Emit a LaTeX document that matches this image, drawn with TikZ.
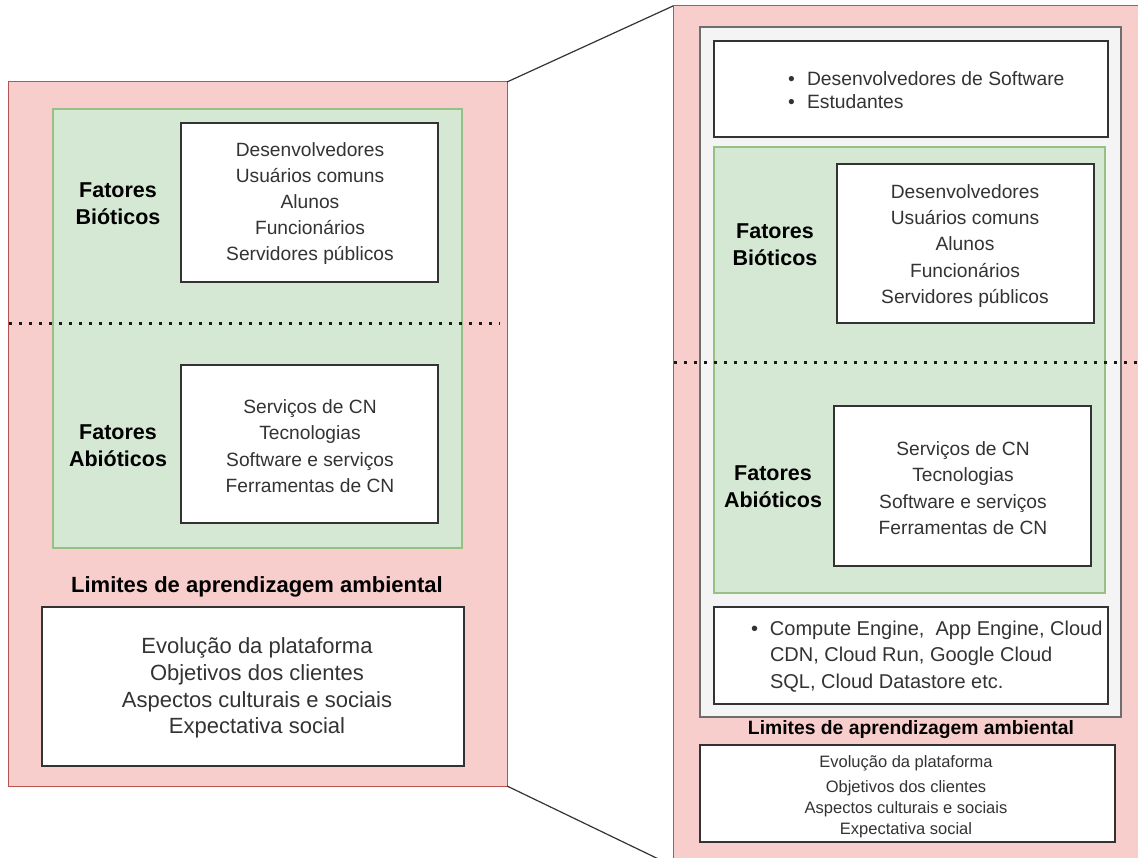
\documentclass[tikz,border=0pt]{standalone}
\usepackage{fontspec}
\setmainfont{Liberation Sans}
\usetikzlibrary{fit}

\definecolor{redfill}{HTML}{F8CECC}
\definecolor{redline}{HTML}{B85450}
\definecolor{greenfill}{HTML}{D5E8D4}
\definecolor{greenline}{HTML}{97C184}
\definecolor{greyfill}{HTML}{F4F4F4}
\definecolor{greyline}{HTML}{6E6E6E}
\definecolor{ink}{HTML}{333333}

\tikzset{
  x=1pt, y=-1pt,
  every node/.style={inner sep=0pt, outer sep=0pt},
  panel/.style={fill=redfill, draw=redline, line width=1pt, inner sep=0pt},
  zone/.style={fill=greenfill, draw=greenline, line width=1.3pt, inner sep=0pt},
  frame/.style={fill=greyfill, draw=greyline, line width=1.3pt, inner sep=0pt},
  card/.style={fill=white, draw=ink, line width=1.3pt, inner sep=0pt},
  label/.style={text=black, align=center},
  entry/.style={text=ink, align=center},
  divider/.style={draw=black!90, line width=3pt, dash pattern=on 3pt off 7pt},
  link/.style={draw=ink, line width=1.2pt},
}
\newcommand{\fs}[2]{\fontsize{#1}{#2}\selectfont}
\newcommand{\bul}{\makebox[19pt][l]{•}}

\begin{document}
\begin{tikzpicture}
\useasboundingbox (0,0) rectangle (1138,858);

% ---------- left panel ----------
\node[panel, fit={(8,82) (507,786)}] (L) {};
\node[zone, fit={(53,109) (462,548)}] (Lzone) {};
\node[card, fit={(181,123) (438,282)}] (Lbio) {};
\node[card, fit={(181,365) (438,523)}] (Labio) {};
\node[card, fit={(42,607) (464,766)}] (Llim) {};

\node[entry, font=\fs{19.2}{26}] (LbioT) at (310,204)
  {Desenvolvedores\\Usuários comuns\\Alunos\\Funcionários\\Servidores públicos};
\node[entry, font=\fs{19.2}{26.3}] (LabioT) at (310,446)
  {Serviços de CN\\Tecnologias\\Software e serviços\\Ferramentas de CN};
\node[label, font=\bfseries\fs{21.5}{27}] (LbioL) at (118,204) {Fatores\\Bióticos};
\node[label, font=\bfseries\fs{21.5}{27}] (LabioL) at (118,446) {Fatores\\Abióticos};
\node[label, font=\bfseries\fs{22}{27}] (LlimL) at (257,587) {Limites de aprendizagem ambiental};
\node[entry, font=\fs{22}{26.7}] (LlimT) at (257,688)
  {Evolução da plataforma\\Objetivos dos clientes\\Aspectos culturais e sociais\\Expectativa social};

\coordinate (Ld1) at (9,324);
\coordinate (Ld2) at (500,324);
\draw[divider] (Ld1) -- (Ld2);

% ---------- right panel (zoomed view) ----------
\node[panel, fit={(673,6) (1150,866)}] (R) {};
\node[frame, fit={(700,27) (1121,717)}] (Rframe) {};
\node[card, fit={(714,41) (1108,137)}] (Rusers) {};
\node[zone, fit={(714,147) (1105,593)}] (Rzone) {};
\node[card, fit={(837,164) (1094,323)}] (Rbio) {};
\node[card, fit={(834,406) (1091,566)}] (Rabio) {};
\node[card, fit={(714,607) (1108,704)}] (Rserv) {};
\node[card, fit={(700,745) (1115,842)}] (Rlim) {};

% multi-line nodes: the base anchor sits on the last line's baseline
\node[entry, anchor=base west, align=left, font=\fs{19.3}{23}] (RusersT) at (788,109)
  {\bul Desenvolvedores de Software\\\bul Estudantes};
\node[entry, font=\fs{19.2}{26.2}] (RbioT) at (965,246)
  {Desenvolvedores\\Usuários comuns\\Alunos\\Funcionários\\Servidores públicos};
\node[entry, font=\fs{19.2}{26.3}] (RabioT) at (963,488)
  {Serviços de CN\\Tecnologias\\Software e serviços\\Ferramentas de CN};
\node[label, font=\bfseries\fs{21.5}{27}] (RbioL) at (775,245) {Fatores\\Bióticos};
\node[label, font=\bfseries\fs{21.5}{27}] (RabioL) at (773,487) {Fatores\\Abióticos};
\node[entry, anchor=base west, align=left, font=\fs{20}{26.5}] (RservT) at (751,688)
  {\bul Compute Engine,\ \ App Engine, Cloud\\\hspace*{19pt}CDN, Cloud Run, Google Cloud\\\hspace*{19pt}SQL, Cloud Datastore etc.};
\node[label, font=\bfseries\fs{19.3}{23}] (RlimL) at (911,730) {Limites de aprendizagem ambiental};
\node[entry, font=\fs{16.5}{21}] (RlimT) at (906,797)
  {Evolução da plataforma\\[4pt]Objetivos dos clientes\\Aspectos culturais e sociais\\Expectativa social};

\coordinate (Rd1) at (674,363);
\coordinate (Rd2) at (1140,363);
\draw[divider] (Rd1) -- (Rd2);

% ---------- zoom connectors ----------
\draw[link] (L.north east) -- (R.north west);
\draw[link] (L.south east) -- (R.south west);
\end{tikzpicture}
\end{document}
